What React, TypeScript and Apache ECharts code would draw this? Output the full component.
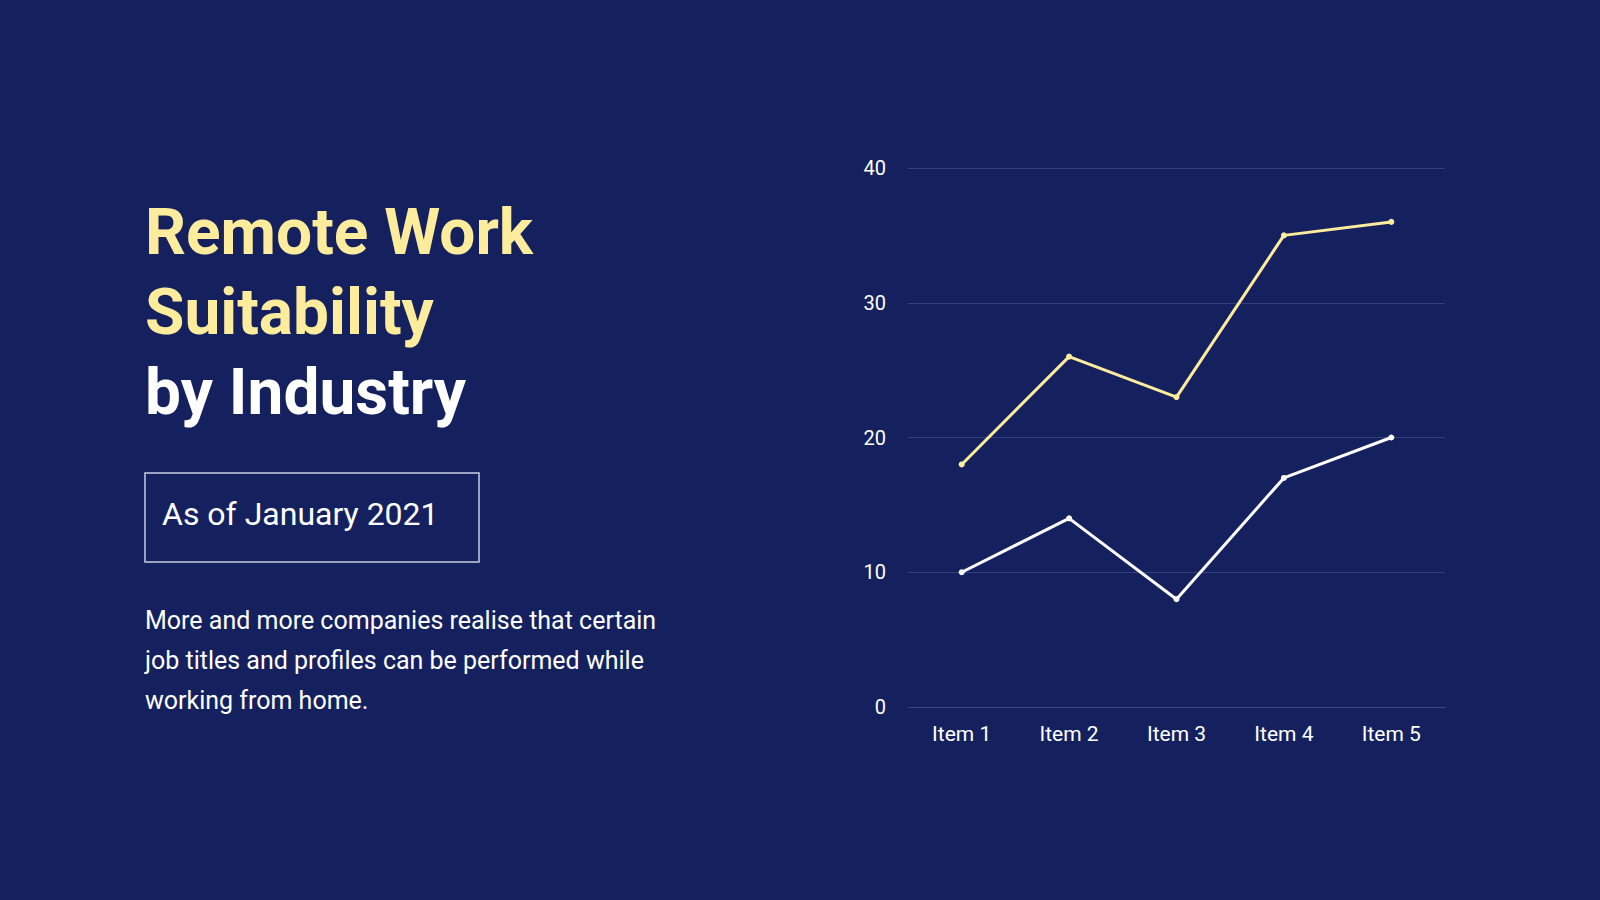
import * as echarts from 'echarts';
import { useEffect, useRef } from 'react';

const categories = ['Item 1', 'Item 2', 'Item 3', 'Item 4', 'Item 5'];
const seriesA = [18, 26, 23, 35, 36];
const seriesB = [10, 14, 8, 17, 20];

const BG = '#15215f';
const YELLOW = '#fdec9c';
const WHITE = '#ffffff';

const App = () => {
    const chartRef = useRef<HTMLDivElement>(null);

    useEffect(() => {
        if (!chartRef.current) return;
        const chart = echarts.init(chartRef.current, undefined, { renderer: 'svg' });

        chart.setOption({
            animation: false,
            backgroundColor: BG,
            textStyle: { fontFamily: 'Roboto' },
            grid: { left: 908, right: 155, top: 168, bottom: 193 },
            xAxis: {
                type: 'category',
                data: categories,
                axisLine: { lineStyle: { color: '#3a4680' } },
                axisTick: { show: false },
                axisLabel: { color: WHITE, fontSize: 21, margin: 16 },
            },
            yAxis: {
                type: 'value',
                min: 0,
                max: 40,
                interval: 10,
                axisLine: { show: false },
                axisTick: { show: false },
                axisLabel: { color: WHITE, fontSize: 20, margin: 22 },
                splitLine: { lineStyle: { color: '#34407a' } },
            },
            series: [
                {
                    type: 'line',
                    data: seriesA,
                    symbol: 'circle',
                    symbolSize: 6,
                    lineStyle: { color: YELLOW, width: 3 },
                    itemStyle: { color: YELLOW },
                },
                {
                    type: 'line',
                    data: seriesB,
                    symbol: 'circle',
                    symbolSize: 6,
                    lineStyle: { color: WHITE, width: 3 },
                    itemStyle: { color: WHITE },
                },
            ],
            graphic: [
                { type: 'text', left: 145, top: 200, style: { text: 'Remote Work', fill: YELLOW, font: 'bold 64px Roboto' } },
                { type: 'text', left: 145, top: 280, style: { text: 'Suitability', fill: YELLOW, font: 'bold 64px Roboto' } },
                { type: 'text', left: 145, top: 360, style: { text: 'by Industry', fill: WHITE, font: 'bold 64px Roboto' } },
                {
                    type: 'rect',
                    shape: { x: 145, y: 473, width: 334, height: 89 },
                    style: { fill: 'none', stroke: '#c8cbe0', lineWidth: 1.5 },
                },
                { type: 'text', left: 162, top: 498, style: { text: 'As of January 2021', fill: WHITE, font: '32px Roboto' } },
                {
                    type: 'text',
                    left: 145,
                    top: 600,
                    style: {
                        text: 'More and more companies realise that certain\njob titles and profiles can be performed while\nworking from home.',
                        fill: WHITE,
                        font: '25px Roboto',
                        lineHeight: 40,
                    },
                },
            ],
        });

        const onResize = () => chart.resize();
        window.addEventListener('resize', onResize);
        return () => {
            window.removeEventListener('resize', onResize);
            chart.dispose();
        };
    }, []);

    return (
        <div
            ref={chartRef}
            style={{ position: 'fixed', left: 0, top: 0, width: 1600, height: 900, background: BG }}
        />
    );
};

export default App;
